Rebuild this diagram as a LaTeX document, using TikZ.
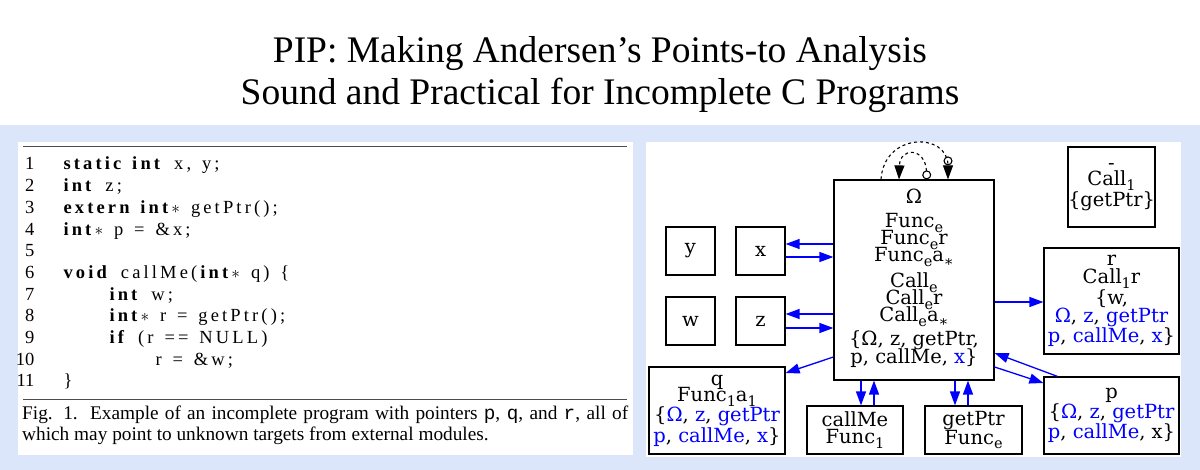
\documentclass[tikz,border=0pt]{standalone}
\usepackage{fontspec}
\setmainfont{Liberation Serif}
\newfontfamily\codefont[LetterSpace=17,WordSpace=1.4]{Liberation Serif}
\newfontfamily\gfont{DejaVu Serif}
\setmonofont{Liberation Mono}
\usetikzlibrary{arrows.meta}
\definecolor{bgblue}{HTML}{DCE6FA}
\definecolor{gb}{RGB}{0,0,255}
\newcommand{\sbs}[1]{\raisebox{-4.5pt}{\fontsize{14.5}{14.5}\selectfont #1}}
\newcommand{\bl}[1]{\textcolor{gb}{#1}}
\begin{document}
\begin{tikzpicture}[x=1pt,y=-1pt,
  gf/.style={font=\gfont\fontsize{19.5}{18.3}\selectfont},
  box/.style={draw,line width=1.2pt,inner sep=0pt,align=center,gf},
  ar/.style={gb,line width=1.3pt,-{Triangle[length=14pt,width=10pt]}},
  dl/.style={black,line width=1.1pt,dashed},
  cl/.style={anchor=base west,font=\codefont\fontsize{18.5}{20}\selectfont},
  ln/.style={anchor=base east,font=\fontsize{18.5}{20}\selectfont},
  ot/.style={gf,anchor=base}]
\useasboundingbox (0,0) rectangle (1200,470);
\fill[bgblue] (0,125) rectangle (1200,470);
\fill[white] (18,142) rectangle (633,455);
\fill[white] (646,142) rectangle (1181,457);
\node[align=center,font=\fontsize{37.5}{42}\selectfont] (title) at (600,75) {PIP: Making Andersen’s Points-to Analysis\\Sound and Practical for Incomplete C Programs};
% code panel
\coordinate (r1a) at (23,147); \coordinate (r1b) at (627,147);
\coordinate (r2a) at (23,399); \coordinate (r2b) at (627,399);
\draw[line width=1pt,black!70] (r1a) -- (r1b);
\draw[line width=1pt,black!70] (r2a) -- (r2b);
\foreach \i in {1,...,11}{\node[ln] (n\i) at (38,{148.3+21.7*\i}) {\i};}
\node[cl] (c1) at (60,170) {\textbf{static int} x, y;};
\node[cl] (c2) at (60,191.7) {\textbf{int} z;};
\node[cl] (c3) at (60,213.4) {\textbf{extern int}$*$ getPtr();};
\node[cl] (c4) at (60,235.1) {\textbf{int}$*$ p = \&x;};
\node[cl] (c6) at (60,278.5) {\textbf{void} callMe(\textbf{int}$*$ q) \{};
\node[cl] (c7) at (106,300.2) {\textbf{int} w;};
\node[cl] (c8) at (106,321.9) {\textbf{int}$*$ r = getPtr();};
\node[cl] (c9) at (106,343.6) {\textbf{if} (r == NULL)};
\node[cl] (c10) at (152,365.3) {r = \&w;};
\node[cl] (c11) at (60,387) {\}};
\node[anchor=north west,text width=606pt,align=justify,inner sep=0pt,font=\fontsize{19.3}{20.5}\selectfont] (cap) at (22,406) {Fig. 1.\ \ Example of an incomplete program with pointers \texttt{p}, \texttt{q}, and \texttt{r}, all of which may point to unknown targets from external modules.};
% graph
\node[box,minimum width=160pt,minimum height=200pt] (om) at (914,280) {};
\node[ot] (o1) at (914,204) {Ω};
\node[ot] (o2) at (914,228) {Func\sbs{e}};
\node[ot] (o3) at (914,245) {Func\sbs{e}r};
\node[ot] (o4) at (914,262) {Func\sbs{e}a\sbs{∗}};
\node[ot] (o5) at (914,288) {Call\sbs{e}};
\node[ot] (o6) at (914,305) {Call\sbs{e}r};
\node[ot] (o7) at (914,322) {Call\sbs{e}a\sbs{∗}};
\node[ot] (o8) at (914,346) {\{Ω, z, getPtr,};
\node[ot] (o9) at (914,364) {p, callMe, \bl{x}\}};
\node[box,minimum width=49pt,minimum height=48pt] (y) at (690.5,251) {y};
\node[box,minimum width=49pt,minimum height=48pt] (x) at (760.5,251) {x};
\node[box,minimum width=49pt,minimum height=48pt] (w) at (690.5,321) {w};
\node[box,minimum width=49pt,minimum height=48pt] (z) at (760.5,321) {z};
\node[box,minimum width=87pt,minimum height=80pt] (call) at (1111.5,187) {-\\[-2pt]Call\sbs{1}\\\{getPtr\}};
\node[box,minimum width=135pt,minimum height=106pt] (r) at (1111.5,301) {r\\Call\sbs{1}r\\\{w,\\\bl{Ω}, \bl{z}, \bl{getPtr}\\\bl{p}, \bl{callMe}, \bl{x}\}};
\node[box,minimum width=135pt,minimum height=77pt] (p) at (1111.5,415.5) {p\\\{\bl{Ω}, \bl{z}, \bl{getPtr}\\\bl{p}, \bl{callMe}, x\}};
\node[box,minimum width=136pt,minimum height=87pt] (q) at (717,410.5) {q\\[-2pt]Func\sbs{1}a\sbs{1}\\\{\bl{Ω}, \bl{z}, \bl{getPtr}\\\bl{p}, \bl{callMe}, \bl{x}\}};
\node[box,minimum width=96pt,minimum height=48pt] (cm) at (855,430) {callMe\\[-1pt]Func\sbs{1}};
\node[box,minimum width=97pt,minimum height=48pt] (gp) at (973.5,430) {getPtr\\[-1pt]Func\sbs{e}};
\draw[ar] (om.west |- 0,244) -- (x.east |- 0,244);
\draw[ar] (x.east |- 0,257) -- (om.west |- 0,257);
\draw[ar] (om.west |- 0,314) -- (z.east |- 0,314);
\draw[ar] (z.east |- 0,328) -- (om.west |- 0,328);
\draw[ar] (om.west |- 0,357) -- (q.north east |- 0,373);
\draw[ar] (om.east |- 0,302) -- (r.west |- 0,302);
\draw[ar] (p.north west) ++(14,0) -- (om.east |- 0,353);
\draw[ar] (om.east |- 0,367) -- (p.west |- 0,383);
\draw[ar] (om.south -| 861,0) -- (cm.north -| 861,0);
\draw[ar] (cm.north -| 874,0) -- (om.south -| 874,0);
\draw[ar] (om.south -| 955,0) -- (gp.north -| 955,0);
\draw[ar] (gp.north -| 968,0) -- (om.south -| 968,0);
\draw[dl,-{Circle[open,length=9pt,width=9pt]Triangle[length=14pt,width=10pt]}] (om.north -| 881,0) .. controls (884,132) and (948,132) .. (om.north -| 948,0);
\draw[dl,{Circle[open,length=9pt,width=9pt]}-{Triangle[length=14pt,width=10pt]}] (om.north -| 927,0) .. controls (925,147) and (900,147) .. (om.north -| 899,0);
\end{tikzpicture}
\end{document}
